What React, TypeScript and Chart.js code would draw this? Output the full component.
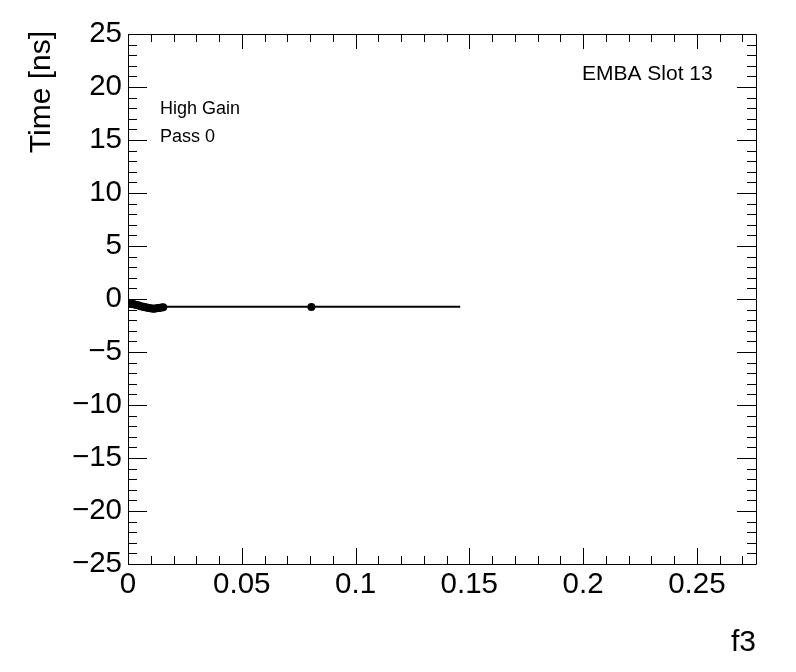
import { useEffect, useRef } from 'react';
import { Chart, registerables } from 'chart.js';

Chart.register(...registerables);

// Measured points (fraction f3 vs time)
const f3Values = [
  0.0003, 0.0008, 0.0012, 0.0018, 0.0024, 0.003, 0.0037, 0.0045, 0.0052, 0.006,
  0.0068, 0.0075, 0.0083, 0.009, 0.0098, 0.0106, 0.0113, 0.0121, 0.013, 0.0138,
  0.0147, 0.0155, 0.0806,
];
const timeValues = [
  -0.35, -0.4, -0.42, -0.45, -0.5, -0.52, -0.56, -0.6, -0.66, -0.7,
  -0.74, -0.78, -0.8, -0.84, -0.88, -0.9, -0.92, -0.9, -0.86, -0.84,
  -0.8, -0.78, -0.75,
];
// Fit line
const fitX = [0, 0.146];
const fitY = [-0.72, -0.72];

const xMin = 0;
const xMax = 0.276;
const yMin = -25;
const yMax = 25;
const xMajor = 0.05;
const xMinor = 0.01;
const yMajor = 5;
const yMinor = 1;

const xTitle = 'f3';
const yTitle = 'Time [ns]';
const labelTopRight = 'EMBA Slot 13';
const labelLines = ['High Gain', 'Pass 0'];

const FONT = '"Liberation Sans", Arial, Helvetica, sans-serif';

const rootAxes = {
  id: 'rootAxes',
  afterDraw(chart: any) {
    const { ctx, chartArea: a, scales } = chart;
    const xs = scales.x;
    const ys = scales.y;
    ctx.save();
    ctx.strokeStyle = '#000';
    ctx.lineWidth = 1;
    ctx.beginPath();
    ctx.rect(Math.round(a.left) + 0.5, Math.round(a.top) + 0.5,
      Math.round(a.right - a.left), Math.round(a.bottom - a.top));
    ctx.stroke();

    ctx.beginPath();
    const nx = Math.round((xMax - xMin) / xMinor);
    for (let i = 0; i <= nx; i++) {
      const v = xMin + i * xMinor;
      if (v > xMax + 1e-9) break;
      const px = Math.round(xs.getPixelForValue(v)) + 0.5;
      const major = i % Math.round(xMajor / xMinor) === 0;
      const lb = major ? 16 : 8;
      const lt = major ? 15 : 8;
      ctx.moveTo(px, a.bottom);
      ctx.lineTo(px, a.bottom - lb);
      ctx.moveTo(px, a.top);
      ctx.lineTo(px, a.top + lt);
    }
    const ny = Math.round((yMax - yMin) / yMinor);
    for (let i = 0; i <= ny; i++) {
      const v = yMin + i * yMinor;
      const py = Math.round(ys.getPixelForValue(v)) + 0.5;
      const major = i % Math.round(yMajor / yMinor) === 0;
      const l = major ? 19 : 9;
      ctx.moveTo(a.left, py);
      ctx.lineTo(a.left + l, py);
      ctx.moveTo(a.right, py);
      ctx.lineTo(a.right - l, py);
    }
    ctx.stroke();

    ctx.fillStyle = '#000';
    // axis titles
    ctx.font = `30px ${FONT}`;
    ctx.textAlign = 'right';
    ctx.textBaseline = 'alphabetic';
    ctx.fillText(xTitle, a.right, 651);
    ctx.save();
    ctx.translate(50, a.top - 3);
    ctx.rotate(-Math.PI / 2);
    ctx.textAlign = 'right';
    ctx.fillText(yTitle, 0, 0);
    ctx.restore();

    // labels
    ctx.font = `21px ${FONT}`;
    ctx.textAlign = 'left';
    ctx.fillText(labelTopRight, 582, 80);
    ctx.font = `18px ${FONT}`;
    ctx.fillText(labelLines[0], 160, 114);
    ctx.fillText(labelLines[1], 160, 142);
    ctx.restore();
  },
};

export default function App() {
  const ref = useRef<HTMLCanvasElement | null>(null);
  useEffect(() => {
    if (!ref.current) return;
    const points = f3Values.map((x, i) => ({ x, y: timeValues[i] }));
    const fit = fitX.map((x, i) => ({ x, y: fitY[i] }));
    const chart = new Chart(ref.current, {
      type: 'scatter',
      data: {
        datasets: [
          {
            label: 'fit',
            data: fit,
            showLine: true,
            borderColor: '#000',
            borderWidth: 2,
            pointRadius: 0,
            fill: false,
          } as any,
          {
            label: 'data',
            data: points,
            showLine: false,
            backgroundColor: '#000',
            borderColor: '#000',
            pointRadius: 4,
            pointBorderWidth: 0,
          },
        ],
      },
      options: {
        responsive: false,
        animation: false,
        layout: { padding: { top: 34, right: 40, left: 0, bottom: 0 } },
        plugins: {
          legend: { display: false },
          tooltip: { enabled: false },
          title: { display: false },
        },
        scales: {
          x: {
            type: 'linear',
            min: xMin,
            max: xMax,
            grid: { display: false, drawTicks: false },
            border: { display: false },
            ticks: {
              stepSize: xMajor,
              includeBounds: false,
              autoSkip: false,
              maxRotation: 0,
              padding: 3,
              color: '#000',
              font: { family: FONT, size: 29.5 },
              callback: (v: any) => String(Math.round(Number(v) * 1000) / 1000),
            },
            afterFit: (s: any) => { s.height = 108; },
          },
          y: {
            type: 'linear',
            min: yMin,
            max: yMax,
            grid: { display: false, drawTicks: false },
            border: { display: false },
            ticks: {
              stepSize: yMajor,
              autoSkip: false,
              padding: 6,
              color: '#000',
              font: { family: FONT, size: 29.5 },
              callback: (v: any) => String(v).replace('-', '\u2212'),
            },
            afterFit: (s: any) => { s.width = 128; },
          },
        },
      },
      plugins: [rootAxes],
    });
    return () => chart.destroy();
  }, []);
  return (
    <div style={{ position: 'fixed', left: 0, top: 0, width: 796, height: 672, background: '#fff' }}>
      <canvas ref={ref} width={796} height={672} />
    </div>
  );
}
